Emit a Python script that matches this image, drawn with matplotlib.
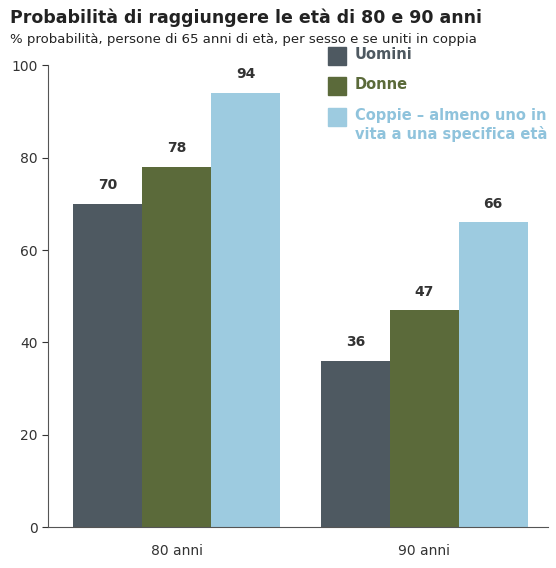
import matplotlib
matplotlib.use("Agg")
import matplotlib.pyplot as plt
import numpy as np

groups = ["80 anni", "90 anni"]
series = ["Uomini", "Donne", "Coppie – almeno uno in\nvita a una specifica età"]
values = [[70, 36], [78, 47], [94, 66]]
colors = ["#4e5961", "#5b6a3a", "#9dcbe0"]

fig = plt.figure(figsize=(5.56, 5.68), dpi=100)
ax = fig.add_axes([0.086, 0.072, 0.9, 0.813])
w = 0.278
x = np.arange(len(groups))
for i, (s, v, c) in enumerate(zip(series, values, colors)):
    pos = x + (i - 1) * w
    ax.bar(pos, v, width=w, color=c, edgecolor="none")
    for p, val in zip(pos, v):
        ax.text(p, val + 2.5, str(val), ha="center", va="bottom", fontsize=10, fontweight="bold", color="#333333")

ax.set_xlim(-0.52, 1.5)
ax.set_ylim(0, 100)
ax.set_yticks([0, 20, 40, 60, 80, 100])
ax.set_xticks(x)
ax.set_xticklabels(groups, fontsize=10, color="#333333")
ax.tick_params(axis="y", labelsize=10, colors="#333333", direction="out", length=4)
ax.tick_params(axis="x", length=0, pad=12)
for sp in ["top", "right"]:
    ax.spines[sp].set_visible(False)
for sp in ["left", "bottom"]:
    ax.spines[sp].set_color("#555555")

# legend
ly = [0.885, 0.832, 0.778]
for c, s, yy in zip(colors, series, ly):
    fig.patches.append(plt.Rectangle((0.59, yy), 0.032, 0.032, transform=fig.transFigure, color=c))
    fig.text(0.638, yy + 0.032, s, ha="left", va="top", fontsize=10.5, fontweight="bold", color=c if c != "#9dcbe0" else "#8fc3dc", linespacing=1.25)

fig.text(0.018, 0.968, "Probabilità di raggiungere le età di 80 e 90 anni", fontsize=12.5, fontweight="bold", color="#222222", va="center")
fig.text(0.018, 0.93, "% probabilità, persone di 65 anni di età, per sesso e se uniti in coppia", fontsize=9.5, color="#222222", va="center")

fig.savefig("out.png", dpi=100)
